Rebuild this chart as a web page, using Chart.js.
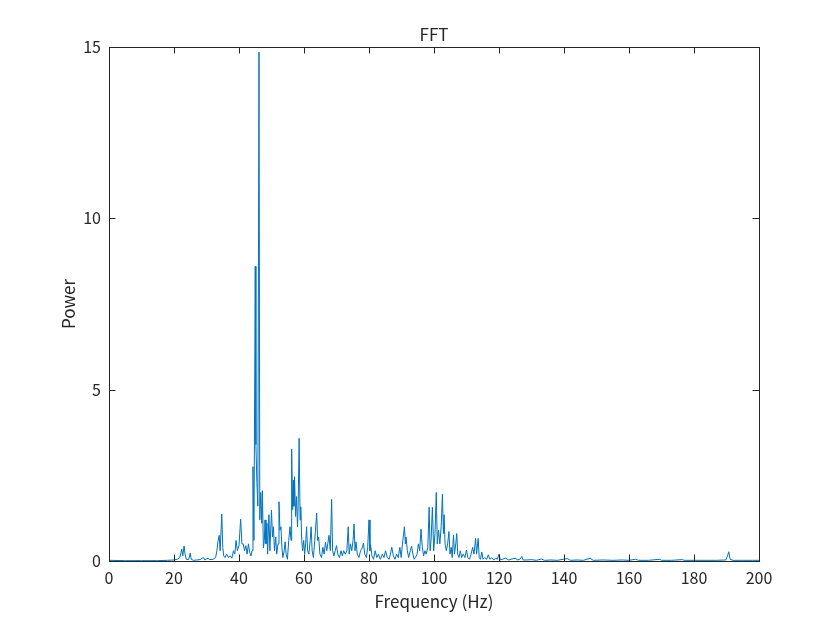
<!DOCTYPE html>
<html>
<head>
<meta charset="utf-8">
<script src="https://cdn.jsdelivr.net/npm/chart.js@4"></script>
<style>
  html, body { margin: 0; padding: 0; background: #fff; }
  #wrap { width: 840px; height: 630px; }
</style>
</head>
<body>
<div id="wrap"><canvas id="fft"></canvas></div>
<script>
// spectrum (Hz, power)
const freq = [
  0, 5, 10, 15, 18, 20, 21, 21.8, 22.4, 22.7, 23.1, 23.4, 23.8, 24.5, 25, 25.3, 26, 27, 28, 29, 29.5,
  30, 30.5, 31, 32, 32.8, 33.2, 33.5, 33.9, 34.2, 34.7, 35, 35.3, 35.7, 36.2, 36.8, 37.3, 37.8, 38.3, 38.7, 39.1, 39.5,
  40, 40.5, 40.9, 41.3, 41.7, 42.1, 42.5, 42.9, 43.3, 43.7, 44.0, 44.3, 44.6, 45.0, 45.2, 45.5, 45.8, 46.15, 46.4, 46.7,
  47.0, 47.2, 47.5, 47.8, 48.0, 48.3, 48.6, 48.8, 49.2, 49.5, 50, 50.3, 50.6, 50.9, 51.3, 51.6, 52.0, 52.3, 52.6, 52.9,
  53.2, 53.5, 53.9, 54.2, 54.5, 54.9, 55.3, 55.7, 56.0, 56.2, 56.5, 56.7, 56.9, 57.1, 57.4, 57.7, 58.0, 58.2, 58.5, 58.8,
  59, 59.3, 59.6, 59.9, 60.2, 60.5, 60.8, 61.1, 61.5, 61.9, 62.2, 62.5, 62.9, 63.3, 63.9, 64.2, 64.5, 64.9, 65.4, 65.8,
  66.2, 66.6, 67.0, 67.7, 68.1, 68.5, 68.8, 69.2, 69.6, 70.0, 70.4, 70.9, 71.4, 71.8, 72.2, 72.7, 73.2, 73.6, 73.9, 74.3,
  74.7, 75.1, 75.4, 75.7, 76.0, 76.4, 76.9, 77.4, 77.9, 78.3, 78.7, 79.2, 79.6, 80.0, 80.3, 80.5, 80.9, 81.4, 81.9, 82.4,
  82.9, 83.5, 84.1, 84.6, 85.1, 85.6, 86.2, 86.6, 87.0, 87.5, 88, 88.5, 89.0, 89.5, 89.9, 90.3, 90.9, 91.2, 91.4, 91.8,
  92.2, 92.7, 93.1, 93.5, 93.9, 94.3, 94.8, 95.2, 95.6, 96.0, 96.4, 96.8, 97.2, 97.6, 98.1, 98.5, 98.8, 99.1, 99.5, 99.9,
  100.3, 100.7, 101.0, 101.4, 101.8, 102.2, 102.6, 102.9, 103.1, 103.4, 103.8, 104.2, 104.6, 104.9, 105.3, 105.6, 106.0,
  106.3, 106.7, 107.0, 107.3, 107.7, 108.1, 108.5, 109, 109.5, 110, 110.4, 110.9, 111.4, 111.9, 112.3, 112.8, 113.1,
  113.6, 113.9, 114.3, 114.7, 115.1, 115.6, 116.2, 116.7, 117.2, 117.8, 118.4, 119, 119.5, 120, 120.4, 121, 122, 123,
  124, 125.2, 125.6, 126.4, 127, 127.4, 128.5, 130, 131.5, 133, 134, 136, 138, 141, 142, 144, 146, 148, 149, 152, 155,
  158, 160, 162, 163, 166, 169.5, 170, 173, 176.4, 177, 180, 184, 187, 189.8, 190.3, 190.7, 191.1, 192, 195, 198, 200
];
const power = [
  0.02, 0.01, 0.01, 0.01, 0.02, 0.03, 0.05, 0.1, 0.34, 0.15, 0.44, 0.2, 0.05, 0.04, 0.23, 0.05, 0.02, 0.03, 0.04, 0.1, 0.03,
  0.06, 0.08, 0.04, 0.05, 0.1, 0.3, 0.56, 0.75, 0.3, 1.37, 0.4, 0.15, 0.1, 0.2, 0.1, 0.15, 0.08, 0.3, 0.2, 0.6, 0.3,
  0.45, 1.22, 0.5, 0.5, 0.3, 0.45, 0.2, 0.5, 0.25, 0.15, 0.3, 2.75, 0.6, 8.6, 3.4, 2.3, 1.6, 14.85, 1.2, 2.0,
  1.1, 2.05, 0.38, 0.6, 1.2, 0.5, 1.1, 0.2, 1.35, 0.3, 1.49, 0.7, 1.0, 0.3, 0.7, 0.2, 0.5, 1.73, 0.9, 1.0,
  0.4, 0.1, 0.3, 0.56, 0.2, 0.05, 0.6, 1.0, 0.6, 3.27, 1.5, 2.36, 1.6, 2.46, 1.3, 1.88, 1.0, 1.6, 3.58, 1.2,
  1.58, 0.6, 0.3, 0.6, 0.2, 0.5, 1.0, 0.3, 0.2, 0.6, 1.0, 0.3, 0.1, 0.6, 1.4, 0.6, 0.7, 0.2, 0.1, 0.4,
  0.2, 0.55, 0.3, 0.75, 0.3, 1.8, 0.3, 0.15, 0.3, 0.45, 0.2, 0.1, 0.3, 0.15, 0.3, 0.2, 0.3, 1.0, 0.2, 0.5,
  0.3, 0.6, 1.08, 0.3, 0.56, 0.2, 0.1, 0.3, 0.38, 0.52, 0.2, 0.1, 0.4, 1.2, 0.3, 0.46, 0.15, 0.05, 0.3, 0.1,
  0.2, 0.05, 0.2, 0.1, 0.3, 0.1, 0.05, 0.2, 0.4, 0.15, 0.05, 0.2, 0.1, 0.4, 0.1, 0.5, 1.0, 0.5, 0.7, 0.3,
  0.1, 0.3, 0.43, 0.2, 0.05, 0.1, 0.2, 0.5, 0.3, 0.93, 0.4, 0.15, 0.3, 0.2, 0.4, 1.57, 0.3, 0.6, 1.57, 0.3,
  0.8, 2.0, 0.5, 0.9, 0.5, 1.0, 1.95, 0.8, 1.35, 0.5, 0.3, 0.5, 0.86, 0.2, 0.4, 0.1, 0.76,
  0.2, 0.5, 0.8, 0.2, 0.1, 0.3, 0.1, 0.2, 0.1, 0.32, 0.1, 0.05, 0.2, 0.4, 0.2, 0.66, 0.2,
  0.66, 0.1, 0.05, 0.26, 0.05, 0.1, 0.05, 0.18, 0.05, 0.1, 0.03, 0.08, 0.05, 0.2, 0.03, 0.05, 0.08, 0.03,
  0.06, 0.08, 0.03, 0.05, 0.13, 0.03, 0.03, 0.04, 0.02, 0.06, 0.02, 0.03, 0.02, 0.07, 0.02, 0.03, 0.02, 0.08, 0.02, 0.03, 0.02,
  0.03, 0.02, 0.05, 0.02, 0.02, 0.05, 0.02, 0.02, 0.04, 0.02, 0.02, 0.02, 0.02, 0.03, 0.15, 0.27, 0.05, 0.02, 0.02, 0.02, 0.02
];
const xTicks = [0, 20, 40, 60, 80, 100, 120, 140, 160, 180, 200];
const yTicks = [0, 5, 10, 15];
const titleText = 'FFT';

const axisColor = '#262626';
const fontFamily = '"Noto Sans CJK JP", "Noto Sans", sans-serif';

// MATLAB style box with inward ticks on all four sides, title centred on the axes
const boxPlugin = {
  id: 'box',
  afterDraw(chart) {
    const ctx = chart.ctx;
    const a = chart.chartArea;
    const xs = chart.scales.x, ys = chart.scales.y;
    const len = 6.5;
    ctx.save();
    ctx.strokeStyle = axisColor;
    ctx.lineWidth = 1;
    ctx.strokeRect(Math.round(a.left) + 0.5, Math.round(a.top) + 0.5,
      Math.round(a.right - a.left), Math.round(a.bottom - a.top));
    ctx.beginPath();
    xTicks.forEach(v => {
      const px = Math.round(xs.getPixelForValue(v)) + 0.5;
      ctx.moveTo(px, a.bottom); ctx.lineTo(px, a.bottom - len);
      ctx.moveTo(px, a.top); ctx.lineTo(px, a.top + len);
    });
    yTicks.forEach(v => {
      const py = Math.round(ys.getPixelForValue(v)) + 0.5;
      ctx.moveTo(a.left, py); ctx.lineTo(a.left + len, py);
      ctx.moveTo(a.right, py); ctx.lineTo(a.right - len, py);
    });
    ctx.stroke();

    ctx.fillStyle = axisColor;
    ctx.font = '17px ' + fontFamily;
    ctx.textAlign = 'center';
    ctx.textBaseline = 'middle';
    ctx.fillText(titleText, (a.left + a.right) / 2, 35);
    ctx.restore();
  }
};

new Chart(document.getElementById('fft'), {
  type: 'line',
  data: {
    datasets: [{
      data: freq.map((f, i) => ({ x: f, y: power[i] })),
      borderColor: '#0072BD',
      borderWidth: 1,
      pointRadius: 0,
      tension: 0,
      fill: false
    }]
  },
  options: {
    responsive: true,
    maintainAspectRatio: false,
    animation: false,
    layout: { padding: { left: 0, right: 81, top: 47, bottom: 0 } },
    plugins: {
      legend: { display: false },
      tooltip: { enabled: false },
      title: { display: false }
    },
    scales: {
      x: {
        type: 'linear',
        min: 0,
        max: 200,
        afterFit: s => { s.height = 69; },
        afterBuildTicks: s => { s.ticks = xTicks.map(v => ({ value: v })); },
        grid: { display: false, drawTicks: false },
        border: { display: false },
        ticks: { color: axisColor, padding: 7, maxRotation: 0, font: { family: fontFamily, size: 16 } },
        title: {
          display: true,
          text: 'Frequency (Hz)',
          color: axisColor,
          font: { family: fontFamily, size: 17 },
          padding: { top: 0, bottom: 18 }
        }
      },
      y: {
        min: 0,
        max: 15,
        afterFit: s => { s.width = 109; },
        afterBuildTicks: s => { s.ticks = yTicks.map(v => ({ value: v })); },
        grid: { display: false, drawTicks: false },
        border: { display: false },
        ticks: { color: axisColor, padding: 8, font: { family: fontFamily, size: 16 } },
        title: {
          display: true,
          text: 'Power',
          color: axisColor,
          font: { family: fontFamily, size: 17 },
          padding: { top: 58, bottom: 0 }
        }
      }
    }
  },
  plugins: [boxPlugin]
});
</script>
</body>
</html>
